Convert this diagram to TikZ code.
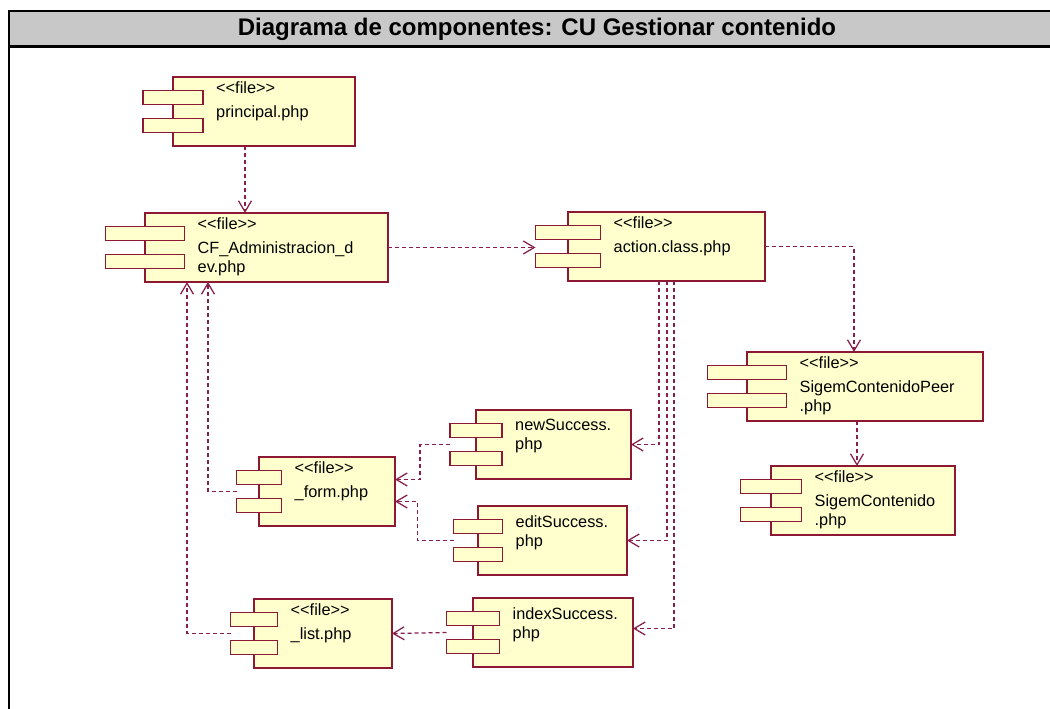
\documentclass[tikz,border=0pt]{standalone}
\usepackage{fontspec}
\setmainfont{Liberation Sans}
\newfontfamily\stereofont{Liberation Sans}[Ligatures=TeXOff]
\usetikzlibrary{arrows.meta}

\definecolor{compfill}{RGB}{255,255,206}
\definecolor{compline}{RGB}{140,24,52}
\definecolor{depline}{RGB}{135,30,75}
\definecolor{titlegray}{RGB}{200,200,200}

\def \bodyheight {69pt}
\def \portheight {13.5pt}

\newcommand{\filetag}{{\stereofont <<file>>}}

\tikzset{
  filebody/.style={draw=compline, fill=compfill, line width=1.3pt, rectangle, minimum height=\bodyheight, inner sep=0pt, outer sep=0pt},
  fileport/.style={draw=compline, fill=compfill, line width=1.3pt, rectangle, minimum height=\portheight, inner sep=0pt, outer sep=0pt},
  filetext/.style={align=left, inner sep=0pt, font=\fontsize{16.3}{19}\selectfont},
  dep/.style={draw=depline, line width=1.25pt, dash pattern=on 4pt off 3pt, -{Straight Barb[length=11pt, width=13pt]}},
}

% id, left, top, body width, port width, text drop, text
\newcommand{\filecomp}[7]{%
  \node[filebody, minimum width=#4pt, anchor=north west] (#1) at (#2,#3) {};
  \node[fileport, minimum width=#5pt] (#1-p1) at ([yshift=-20.5pt]#1.north west) {};
  \node[fileport, minimum width=#5pt] (#1-p2) at ([yshift=-48.5pt]#1.north west) {};
  \node[filetext, anchor=north west] (#1-t) at ([xshift=#5pt/2+13pt, yshift=-#6pt]#1.north west) {#7};
}

\begin{document}
\begin{tikzpicture}[x=1pt, y=-1pt]
\useasboundingbox (0,0) rectangle (1050,709);
\clip (0,0) rectangle (1050,709);
\fill[white] (0,0) rectangle (1050,709);

% frame and title bar
\fill[titlegray] (9,11) rectangle (1075,46.5);
\draw[line width=2.6pt] (9,720) -- (9,11) -- (1075,11);
\draw[line width=2.8pt] (9,46.5) -- (1075,46.5);
\node[font=\bfseries\fontsize{24}{28}\selectfont] (title) at (537,29) {Diagrama de componentes: CU Gestionar contenido};

\filecomp{principal}{173}{77}{182}{60}{4}{\filetag\\[5pt]principal.php}
\filecomp{cf}{145}{213}{243}{79}{4}{\filetag\\[5pt]CF\_Administracion\_d\\ev.php}
\filecomp{action}{568}{212}{197}{65}{4}{\filetag\\[5pt]action.class.php}
\filecomp{peer}{747}{352}{236}{79}{4}{\filetag\\[5pt]SigemContenidoPeer\\.php}
\filecomp{sigem}{771}{466}{184}{61}{4}{\filetag\\[5pt]SigemContenido\\.php}
\filecomp{new}{476}{410}{155}{52}{9}{newSuccess.\\php}
\filecomp{form}{259}{457}{136}{45}{4}{\filetag\\[5pt]\_form.php}
\filecomp{edit}{478}{506}{149}{49}{9}{editSuccess.\\php}
\filecomp{list}{254}{599}{138}{47}{4}{\filetag\\[5pt]\_list.php}
\filecomp{index}{473}{598}{160}{53}{9}{indexSuccess.\\php}

\draw[dep] ([xshift=-19pt]principal.south) -- ([xshift=-19pt]principal.south |- cf.north);
\draw[dep] (cf.east) -- (cf.east -| action-p1.west);
\draw[dep] (action.east) -| ([xshift=-11pt]peer.north);
\draw[dep] ([xshift=-8pt]peer.south) -- ([xshift=-8pt]peer.south |- sigem.north);
\draw[dep] ([xshift=-7.5pt]action.south) |- (new.east);
\draw[dep] ([xshift=0.5pt]action.south) |- (edit.east);
\draw[dep] ([xshift=7.5pt]action.south) |- ([yshift=4pt]index.east);
\draw[dep] (new-p1.west |- new.east) -- ++(-30pt,0) |- ([yshift=12pt]form.east);
\draw[dep] (edit-p1.west |- edit.east) -- ++(-36pt,0) |- ([yshift=-10pt]form.east);
\draw[dep] (form-p1.west |- form.west) -| ([xshift=-58.5pt]cf.south);
\draw[dep] (list-p1.west |- list.west) -| ([xshift=-79.5pt]cf.south);
\draw[dep] (index-p1.west |- index.west) -- (list.east);
\end{tikzpicture}
\end{document}
